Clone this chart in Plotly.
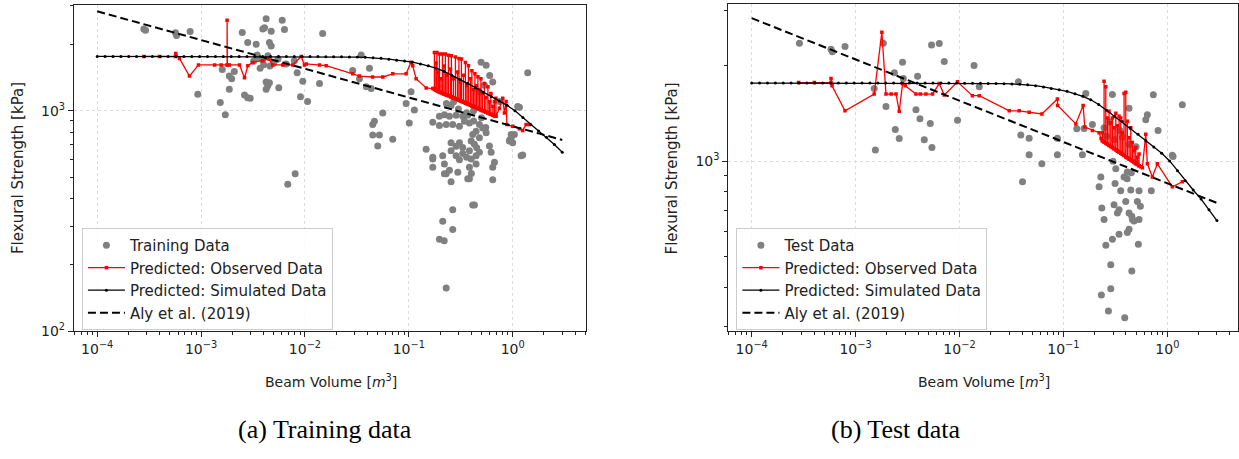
import plotly.graph_objects as go

# ---------------- data ----------------
# Model curve evaluated on a simulated grid of beam volumes (m^3) -> strength (kPa)
sim_volume = [1.000e-4, 1.191e-4, 1.419e-4, 1.690e-4, 2.013e-4, 2.393e-4, 2.851e-4, 3.396e-4,
              4.046e-4, 4.819e-4, 5.741e-4, 6.839e-4, 8.147e-4, 9.683e-4, 1.153e-3, 1.374e-3,
              1.637e-3, 1.950e-3, 2.323e-3, 2.767e-3, 3.296e-3, 3.917e-3, 4.667e-3, 5.559e-3,
              6.622e-3, 7.889e-3, 9.397e-3, 1.119e-2, 1.334e-2, 1.589e-2, 1.888e-2, 2.249e-2,
              2.679e-2, 3.192e-2, 3.802e-2, 4.529e-2, 5.395e-2, 6.427e-2, 7.638e-2, 9.099e-2,
              0.1084, 0.1291, 0.1538, 0.1832, 0.2183, 0.2600, 0.3090, 0.3681, 0.4385, 0.5224,
              0.6223, 0.7413, 0.8831, 1.052, 1.253, 1.489, 1.774, 2.113, 2.518, 3.000]
sim_strength = [1766] * 25 + [1765, 1765, 1764, 1763, 1762, 1761, 1760, 1758, 1755, 1750,
                              1743, 1732, 1716, 1698, 1683, 1663, 1633, 1603, 1563, 1510,
                              1449, 1387, 1334, 1274, 1216, 1161, 1109, 1059, 1002, 933,
                              867, 811, 759, 703, 649]

# Aly et al. (2019) size-effect relation, end points
aly_volume = [1e-4, 3.0]
aly_strength = [2831, 738]

# Training data (scatter)
train_volume = [2.81e-4, 2.92e-4, 5.67e-4, 5.80e-4, 7.85e-4, 9.29e-4, 1.53e-3, 1.60e-3, 1.71e-3,
                1.87e-3, 1.87e-3, 1.97e-3, 2.09e-3, 2.49e-3, 2.62e-3, 2.81e-3, 2.81e-3, 2.97e-3,
                3.39e-3, 3.47e-3, 3.93e-3, 4.08e-3, 4.23e-3, 4.55e-3, 4.73e-3, 4.73e-3, 4.23e-3,
                4.38e-3, 4.23e-3, 4.55e-3, 5.60e-3, 6.04e-3, 6.35e-3, 6.59e-3, 7.90e-3, 8.41e-3,
                9.06e-3, 9.53e-3, 1.06e-2, 6.83e-3, 8.05e-3, 3.50e-3, 3.90e-3, 4.40e-3, 5.00e-3,
                5.50e-3, 4.00e-3, 3.20e-3, 4.60e-3, 3.70e-3, 1.48e-2, 3.48e-2, 4.18e-2, 2.88e-2,
                3.35e-2, 4.34e-2, 3.90e-2, 1.38e-2, 5.61e-2, 4.66e-2, 4.49e-2, 4.49e-2, 5.21e-2,
                5.02e-2, 7.00e-2, 9.42e-2, 0.105, 0.113, 0.101, 0.1467, 0.170, 0.170, 0.229,
                0.255, 0.369, 0.383, 0.496, 0.555, 0.600, 0.642, 0.534, 0.478, 0.642, 0.966,
                0.929, 1.117, 1.394, 1.205, 1.248, 1.160, 0.966, 1.000, 1.038, 0.170, 0.197,
                0.229, 0.2646, 0.307, 0.343, 0.383, 0.255, 0.230, 0.444, 0.514, 0.555, 0.478,
                0.412, 0.398, 0.428, 0.450, 0.383, 0.330, 0.307, 0.285, 0.255, 0.255, 0.285,
                0.307, 0.330, 0.360, 0.398, 0.444, 0.478, 0.597, 0.620, 0.667, 0.642, 0.444,
                0.383, 0.400, 0.296, 0.246, 0.220, 0.212, 0.220, 0.170, 0.412, 0.428, 0.2646,
                0.212, 0.2646, 0.197, 0.219, 0.229, 0.197, 0.220, 0.246, 0.285, 0.330, 0.369,
                0.420, 0.478, 0.550, 0.300, 0.360, 0.420, 0.500, 0.270, 0.745, 0.940]
train_strength = [2355, 2320, 2261, 2198, 2291, 1191, 1090, 1540, 960,
                  1253, 1439, 1400, 1509, 2270, 1179, 2042, 1148, 1140,
                  2005, 1791, 2355, 2382, 2618, 2042, 1972, 2301, 1353,
                  1300, 1253, 1340, 1272, 2576, 2339, 1633, 1690, 1489,
                  1159, 1361, 1102, 464, 518, 1750, 1700, 1780, 1650,
                  1720, 1620, 1680, 1600, 1560, 2244, 1791, 1563, 1524,
                  1400, 1262, 1285, 1330, 977, 897, 866, 777, 777,
                  693, 743, 1081, 1222, 1010, 881, 670, 615, 555, 518,
                  476, 492, 492, 1662, 1610, 1449, 1353, 1306, 1222, 487, 781,
                  730, 1046, 1489, 626, 630, 1039, 755, 717, 781, 888, 857,
                  866, 866, 852, 897, 881, 1057, 1080, 809, 837, 795, 755,
                  781, 730, 705, 680, 659, 682, 717, 690, 717, 659, 626,
                  600, 640, 615, 604, 626, 648, 693, 648, 584, 555, 574,
                  555, 520, 527, 537, 518, 626, 574, 604, 374, 374, 356,
                  315, 289, 261, 257, 157, 944, 960, 944, 954, 944, 954,
                  900, 866, 840, 1020, 980, 1000, 930, 1100, 1102, 740]

# Predictions on the observed training beams, sorted by volume
train_pred_volume = [2.81e-4, 3.98e-4, 5.67e-4, 5.70e-4, 6.19e-4, 7.73e-4, 9.44e-4, 1.35e-3,
                     1.56e-3, 1.78e-3, 1.78e-3, 1.79e-3, 1.87e-3, 2.34e-3, 2.62e-3, 2.82e-3,
                     3.15e-3, 3.93e-3, 4.49e-3, 4.90e-3, 6.11e-3, 7.63e-3, 9.20e-3, 9.88e-3,
                     1.03e-2, 1.38e-2, 1.60e-2, 2.88e-2, 3.35e-2, 4.47e-2, 5.61e-2, 7.00e-2,
                     9.42e-2, 0.105, 0.109, 0.1175, 0.147, 0.170]
train_pred_strength = [1766, 1766, 1766, 1823, 1730, 1439, 1616, 1616,
                       1616, 1616, 2578, 1616, 1616, 1616, 1413, 1603,
                       1660, 1690, 1718, 1616, 1616, 1616, 1766, 1616,
                       1633, 1616, 1603, 1472, 1439, 1425, 1425, 1472,
                       1472, 1663, 1603, 1400, 1271, 1262]
# repeated-volume groups in the dense range: lower, peak, lower again
train_grp_volume = [0.1763, 0.1823, 0.1864, 0.1927, 0.1970, 0.2036, 0.2105, 0.2176, 0.2250,
                    0.2325, 0.2404, 0.2513, 0.2570, 0.2687, 0.2809, 0.2936, 0.3035, 0.3137,
                    0.3208, 0.3353, 0.3505, 0.3623, 0.3746, 0.3916, 0.4048, 0.4185, 0.4326,
                    0.4472, 0.4624, 0.4780, 0.4941, 0.5108, 0.5340, 0.5521, 0.5771, 0.5966,
                    0.6168, 0.6448, 0.6666, 0.6892]
train_grp_low = [1262, 1245, 1238, 1228, 1222, 1213, 1205, 1196, 1188,
                 1181, 1174, 1164, 1158, 1148, 1138, 1128, 1120, 1112,
                 1106, 1097, 1087, 1079, 1072, 1062, 1055, 1048, 1041,
                 1033, 1026, 1019, 1012, 1005, 996, 989, 980, 973,
                 966, 957, 951, 946]
train_grp_peak = [1841, 1650, 1841, 1500, 1811, 1400, 1811, 1600, 1811,
                  1450, 1790, 1550, 1778, 1400, 1754, 1500, 1730, 1350,
                  1718, 1450, 1660, 1300, 1603, 1400, 1520, 1250, 1472,
                  1300, 1428, 1250, 1400, 1200, 1330, 1150, 1288, 1100,
                  1199, 1050, 1100, 1140]
train_grp_back = [1250, 1240, 1235, 1225, 1218, 1210, 1200, 1193, 1185,
                  1178, 1170, 1160, 1155, 1145, 1135, 1125, 1117, 1110,
                  1103, 1094, 1084, 1076, 1069, 1060, 1052, 1045, 1038,
                  1030, 1024, 1016, 1009, 1002, 993, 986, 977, 970,
                  963, 955, 948, 944]
train_tail_volume = [0.7447, 0.8014, 0.8321, 0.8640, 0.8794, 1.000, 1.160, 1.248, 1.346, 1.448]
train_tail_strength = [1028, 1140, 977, 1102, 866, 852, 830, 815, 866, 866]

# Test data (scatter)
test_volume = [2.88e-4, 5.80e-4, 5.97e-4, 7.91e-4, 1.51e-3, 1.55e-3, 1.85e-3, 1.96e-3, 2.36e-3,
               2.41e-3, 2.63e-3, 2.83e-3, 2.88e-3, 3.81e-3, 3.95e-3, 4.16e-3, 4.58e-3, 5.23e-3,
               5.38e-3, 5.43e-3, 6.38e-3, 7.13e-3, 9.57e-3, 1.38e-2, 1.55e-2, 3.69e-2, 3.89e-2,
               4.68e-2, 4.68e-2, 4.04e-2, 6.20e-2, 8.75e-2, 8.75e-2, 0.1523, 0.158, 0.1642,
               0.1345, 0.190, 0.296, 0.428, 0.642, 0.620, 0.733, 0.814, 1.394, 1.135, 1.117,
               0.246, 0.280, 0.260, 0.310, 0.370, 0.430, 0.500, 0.350, 0.2204, 0.229, 0.314,
               0.356, 0.445, 0.534, 0.701, 0.383, 0.410, 0.450, 0.319, 0.300, 0.500, 0.412,
               0.307, 0.343, 0.398, 0.428, 0.515, 0.550, 0.461, 0.534, 0.428, 0.343, 0.296,
               0.256, 0.526, 0.2855, 0.455, 0.2855, 0.232, 0.271, 0.389, 0.234, 0.246, 0.331,
               0.412, 0.455, 0.478]
test_strength = [2359, 2259, 2217, 2303, 1697, 1084, 2359, 1489, 1903,
                 1260, 1179, 2055, 1824, 1453, 1854, 1363, 1168, 1315,
                 2330, 1105, 2353, 2064, 1347, 2005, 1718, 1781, 1210,
                 1181, 1049, 861, 981, 1181, 1049, 1049, 1269, 1638,
                 1266, 1306, 1626, 1471, 1403, 1353, 1622, 1251, 1507, 1034, 1045,
                 1275, 1330, 1200, 1170, 1190, 1130, 1110, 1250, 830, 892, 850,
                 807, 811, 807, 807, 892, 880, 920, 946, 1000, 990, 924,
                 729, 703, 746, 686, 746, 720, 654, 654, 609, 588, 567,
                 543, 547, 471, 450, 395, 378, 336, 320, 711, 654, 686,
                 595, 670, 647]

# Predictions on the observed test beams, sorted by volume
test_pred_volume = [2.83e-4, 4.0e-4, 5.80e-4, 5.80e-4, 5.93e-4, 7.91e-4, 1.51e-3, 1.79e-3,
                    1.96e-3, 2.2e-3, 2.45e-3, 2.63e-3, 2.83e-3, 3.0e-3, 3.81e-3, 4.2e-3,
                    4.75e-3, 5.50e-3, 6.38e-3, 7.13e-3, 9.57e-3, 1.33e-2, 1.55e-2, 3.01e-2,
                    3.75e-2, 4.68e-2, 6.20e-2, 8.75e-2, 8.80e-2, 0.1316, 0.1547, 0.1606,
                    0.190, 0.2204, 0.2304]
test_pred_strength = [1772, 1772, 1772, 1824, 1731, 1443, 1630, 2557,
                      1630, 1630, 1630, 1437, 1759, 1731, 1630, 1630,
                      1630, 1630, 1759, 1618, 1781, 1611, 1611, 1443,
                      1443, 1427, 1410, 1572, 1500, 1312, 1500, 1282,
                      1251, 1230, 1180]
test_grp_volume = [0.2371, 0.2462, 0.2557, 0.2649, 0.2750, 0.2855, 0.2959, 0.3073, 0.3191,
                   0.3306, 0.3432, 0.3563, 0.3692, 0.3834, 0.3981, 0.4124, 0.4282, 0.4446,
                   0.4607, 0.4784, 0.4967, 0.5146, 0.5343]
test_grp_low = [1160, 1150, 1141, 1132, 1122, 1113, 1104, 1095, 1086,
                1077, 1069, 1060, 1051, 1042, 1033, 1025, 1017, 1009,
                1001, 993, 985, 976, 968]
test_grp_peak = [1230, 1788, 1718, 1370, 1437, 1322, 1370, 1275, 1418,
                 1294, 1387, 1370, 1230, 1638, 1650, 1338, 1187, 1275,
                 1146, 1080, 1105, 1029, 1054]
test_grp_back = test_grp_low
test_tail_volume = [0.5548, 0.5749, 0.6198, 0.6422, 0.7177, 0.8014, 1.117, 1.394]
test_tail_strength = [961, 953, 1216, 981, 892, 981, 830, 861]

x_tickvals = [1e-4, 1e-3, 1e-2, 1e-1, 1e0]
x_ticktext = ["10<sup>\u22124</sup>", "10<sup>\u22123</sup>", "10<sup>\u22122</sup>",
              "10<sup>\u22121</sup>", "10<sup>0</sup>"]


def grouped_line(v0, s0, gv, glo, gpk, gbk, tv, ts):
    xs, ys = list(v0), list(s0)
    for v, a, b, c in zip(gv, glo, gpk, gbk):
        xs += [v, v, v]
        ys += [a, b, c]
    return xs + list(tv), ys + list(ts)


# ---------------- figure ----------------
W, H = 1239, 459
FONT = "DejaVu Sans"
GRAY = "#808080"

fig = go.Figure()

panels = [
    dict(xa="x", ya="y", legend="legend", name="Training Data",
         sv=train_volume, ss=train_strength,
         pred=grouped_line(train_pred_volume, train_pred_strength, train_grp_volume,
                           train_grp_low, train_grp_peak, train_grp_back,
                           train_tail_volume, train_tail_strength)),
    dict(xa="x2", ya="y2", legend="legend2", name="Test Data",
         sv=test_volume, ss=test_strength,
         pred=grouped_line(test_pred_volume, test_pred_strength, test_grp_volume,
                           test_grp_low, test_grp_peak, test_grp_back,
                           test_tail_volume, test_tail_strength)),
]

for p in panels:
    fig.add_trace(go.Scatter(x=p["sv"], y=p["ss"], mode="markers", name=p["name"],
                             marker=dict(color=GRAY, size=7, line=dict(width=0)),
                             xaxis=p["xa"], yaxis=p["ya"], legend=p["legend"]))
    fig.add_trace(go.Scatter(x=p["pred"][0], y=p["pred"][1], mode="lines+markers",
                             name="Predicted: Observed Data",
                             line=dict(color="red", width=1.3),
                             marker=dict(color="red", size=3.5, symbol="square"),
                             xaxis=p["xa"], yaxis=p["ya"], legend=p["legend"]))
    fig.add_trace(go.Scatter(x=sim_volume, y=sim_strength, mode="lines+markers",
                             name="Predicted: Simulated Data",
                             line=dict(color="black", width=1.3),
                             marker=dict(color="black", size=3),
                             xaxis=p["xa"], yaxis=p["ya"], legend=p["legend"]))
    fig.add_trace(go.Scatter(x=aly_volume, y=aly_strength, mode="lines",
                             name="Aly et al. (2019)",
                             line=dict(color="black", width=2, dash="8px,4px"),
                             xaxis=p["xa"], yaxis=p["ya"], legend=p["legend"]))

axis_common = dict(type="log", showline=True, mirror=True, linecolor="#222", linewidth=1.2,
                   ticks="outside", ticklen=5, tickwidth=1, tickcolor="#222",
                   showgrid=True, gridcolor="#dcdcdc", griddash="dot", gridwidth=0.8,
                   zeroline=False, tickfont=dict(family=FONT, size=14, color="#222"),
                   minor=dict(ticks="outside", ticklen=3, tickwidth=0.8, tickcolor="#222",
                              dtick="D1", showgrid=False))

legend_common = dict(xanchor="left", yanchor="top", bgcolor="rgba(255,255,255,0.85)",
                     bordercolor="#cccccc", borderwidth=1, itemwidth=37,
                     font=dict(family=FONT, size=15, color="#222"))

fig.update_layout(
    width=W, height=H, margin=dict(l=0, r=0, t=0, b=0),
    paper_bgcolor="white", plot_bgcolor="white",
    font=dict(family=FONT, color="#222"),
    xaxis=dict(axis_common, domain=[74 / W, 586 / W], range=[-4.224, 0.701],
               tickmode="array", tickvals=x_tickvals, ticktext=x_ticktext, anchor="y"),
    yaxis=dict(axis_common, domain=[1 - 337 / H, 1 - 5 / H], range=[2, 3.481],
               tickmode="array", tickvals=[100, 1000],
               ticktext=["10<sup>2</sup>", "10<sup>3</sup>"], anchor="x"),
    xaxis2=dict(axis_common, domain=[729 / W, 1.0], range=[-4.224, 0.680],
                tickmode="array", tickvals=x_tickvals, ticktext=x_ticktext, anchor="y2"),
    yaxis2=dict(axis_common, domain=[1 - 336.7 / H, 1 - 4.3 / H], range=[2.464, 3.496],
                tickmode="array", tickvals=[1000], ticktext=["10<sup>3</sup>"], anchor="x2"),
    legend=dict(legend_common, x=82 / W, y=1 - 232 / H),
    legend2=dict(legend_common, x=737 / W, y=1 - 232 / H),
    showlegend=True,
)

labels = [
    dict(text="Flexural Strength [kPa]", x=18 / W, y=1 - 171 / H, textangle=-90, size=15),
    dict(text="Flexural Strength [kPa]", x=673 / W, y=1 - 171 / H, textangle=-90, size=15),
    dict(text="Beam Volume [<i>m</i><sup>3</sup>]", x=331 / W, y=1 - 388 / H, textangle=0, size=14),
    dict(text="Beam Volume [<i>m</i><sup>3</sup>]", x=985 / W, y=1 - 388 / H, textangle=0, size=14),
]
for a in labels:
    fig.add_annotation(text=a["text"], x=a["x"], y=a["y"], xref="paper", yref="paper",
                       xanchor="center", yanchor="middle", showarrow=False,
                       textangle=a["textangle"], font=dict(family=FONT, size=a["size"], color="#222"))

for text, xc in [("(a) Training data", 325), ("(b) Test data", 897)]:
    fig.add_annotation(text=text, x=xc / W, y=1 - 437 / H, xref="paper", yref="paper",
                       xanchor="center", yanchor="middle", showarrow=False,
                       font=dict(family="Liberation Serif", size=26, color="black"))

fig.write_html("out.html")
